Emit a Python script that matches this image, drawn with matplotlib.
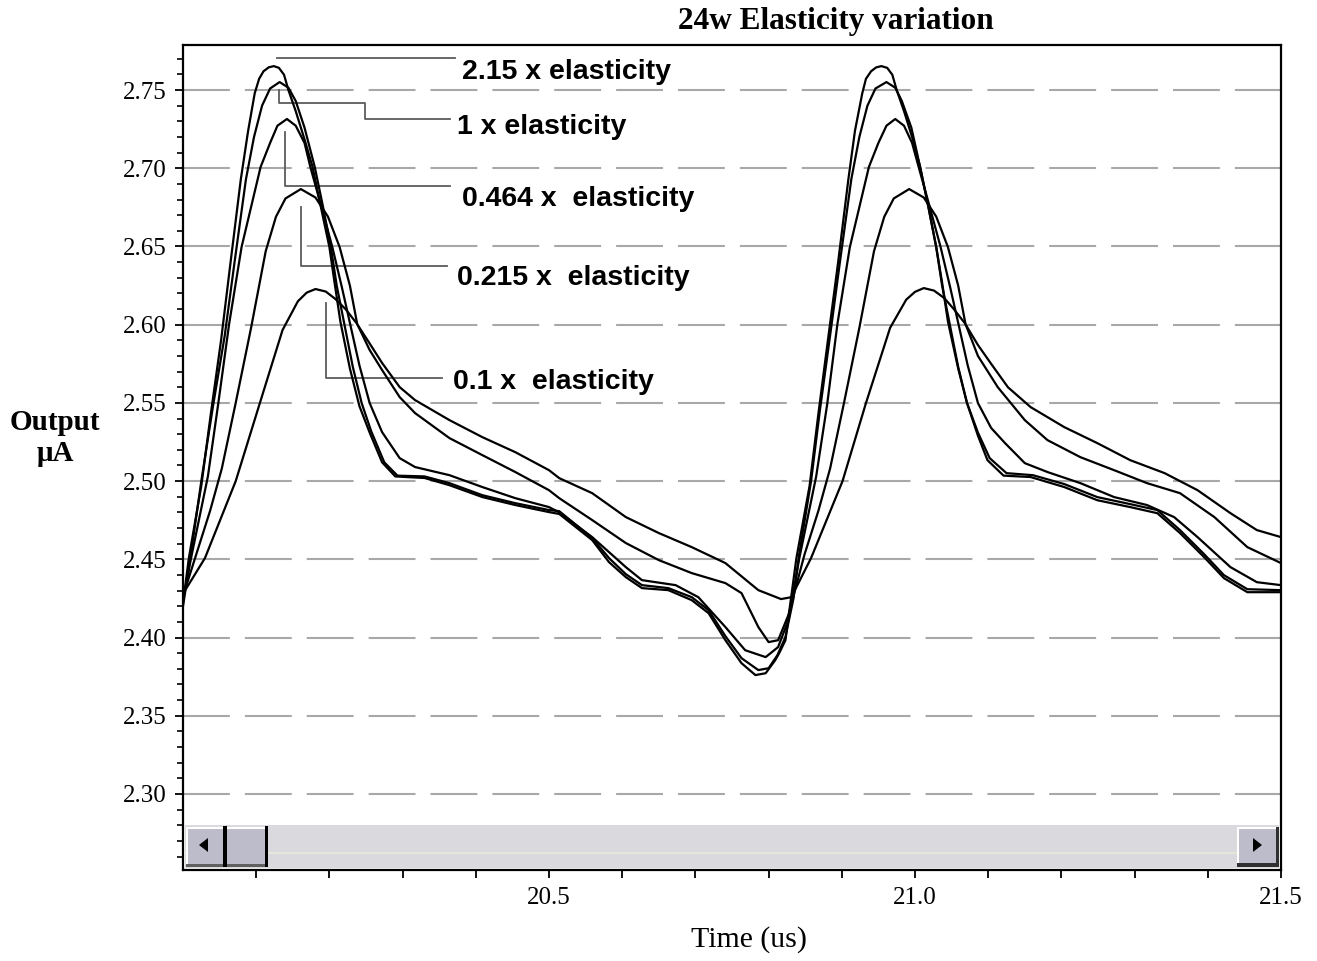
import matplotlib
matplotlib.use("Agg")
import matplotlib.pyplot as plt
from matplotlib.patches import Rectangle, Polygon
from matplotlib.ticker import FixedLocator, MultipleLocator

# ---------------- data ----------------
title = "24w Elasticity variation"
x_label = "Time (us)"
y_label = "Output\nμA"

series_labels = ["2.15 x elasticity", "1 x elasticity", "0.464 x  elasticity",
                 "0.215 x  elasticity", "0.1 x  elasticity"]

t_215 = [20.000, 20.008, 20.025, 20.038, 20.052, 20.065, 20.079, 20.089, 20.098, 20.104,
         20.110, 20.117, 20.124, 20.131, 20.138, 20.144, 20.154, 20.166, 20.177, 20.188,
         20.200, 20.207, 20.215, 20.228, 20.241, 20.255, 20.272, 20.290, 20.309, 20.330,
         20.364, 20.409, 20.454, 20.500, 20.514, 20.559, 20.582, 20.605, 20.627, 20.663,
         20.695, 20.718, 20.741, 20.763, 20.782, 20.796, 20.809, 20.815, 20.823, 20.830,
         20.838, 20.856, 20.868, 20.881, 20.895, 20.909, 20.918, 20.928, 20.933, 20.940,
         20.947, 20.954, 20.962, 20.969, 20.975, 20.985, 20.997, 21.007, 21.018, 21.029,
         21.037, 21.045, 21.059, 21.071, 21.086, 21.099, 21.121, 21.158, 21.204, 21.249,
         21.294, 21.331, 21.362, 21.395, 21.422, 21.454, 21.500]
v_215 = [2.4220, 2.4508, 2.4970, 2.5430, 2.5900, 2.6400, 2.6930, 2.7240, 2.7480, 2.7572,
         2.7620, 2.7645, 2.7653, 2.7642, 2.7598, 2.7500, 2.7365, 2.7185, 2.7008, 2.6760,
         2.6496, 2.6270, 2.6020, 2.5720, 2.5480, 2.5310, 2.5120, 2.5030, 2.5025, 2.5020,
         2.4974, 2.4898, 2.4847, 2.4802, 2.4790, 2.4623, 2.4482, 2.4386, 2.4316, 2.4303,
         2.4239, 2.4156, 2.3983, 2.3836, 2.3760, 2.3772, 2.3855, 2.3905, 2.3983, 2.4230,
         2.4508, 2.4970, 2.5430, 2.5900, 2.6400, 2.6930, 2.7240, 2.7480, 2.7572, 2.7620,
         2.7645, 2.7653, 2.7642, 2.7598, 2.7500, 2.7365, 2.7185, 2.7008, 2.6760, 2.6496,
         2.6270, 2.6020, 2.5720, 2.5500, 2.5290, 2.5134, 2.5035, 2.5026, 2.4962, 2.4878,
         2.4834, 2.4795, 2.4668, 2.4514, 2.4380, 2.4290, 2.4290]

t_1 = [20.000, 20.010, 20.025, 20.041, 20.057, 20.071, 20.086, 20.097, 20.108, 20.119,
       20.132, 20.144, 20.154, 20.166, 20.180, 20.191, 20.202, 20.210, 20.221, 20.232,
       20.244, 20.257, 20.275, 20.293, 20.330, 20.364, 20.409, 20.454, 20.500, 20.514,
       20.559, 20.582, 20.605, 20.627, 20.663, 20.695, 20.718, 20.741, 20.763, 20.786,
       20.800, 20.812, 20.823, 20.834, 20.841, 20.858, 20.870, 20.884, 20.898, 20.913,
       20.924, 20.935, 20.946, 20.961, 20.973, 20.982, 20.995, 21.007, 21.018, 21.029,
       21.037, 21.048, 21.059, 21.071, 21.086, 21.102, 21.125, 21.161, 21.204, 21.249,
       21.294, 21.331, 21.362, 21.395, 21.422, 21.454, 21.500]
v_1 = [2.4200, 2.4508, 2.5000, 2.5480, 2.5930, 2.6420, 2.6930, 2.7200, 2.7400, 2.7510,
       2.7551, 2.7515, 2.7430, 2.7260, 2.7008, 2.6760, 2.6496, 2.6250, 2.5990, 2.5730,
       2.5500, 2.5320, 2.5120, 2.5035, 2.5030, 2.4987, 2.4910, 2.4859, 2.4815, 2.4808,
       2.4636, 2.4508, 2.4405, 2.4335, 2.4316, 2.4258, 2.4175, 2.4009, 2.3868, 2.3792,
       2.3804, 2.3887, 2.4003, 2.4250, 2.4508, 2.5000, 2.5450, 2.5930, 2.6420, 2.6930,
       2.7200, 2.7400, 2.7510, 2.7551, 2.7515, 2.7430, 2.7260, 2.7008, 2.6760, 2.6496,
       2.6250, 2.5990, 2.5730, 2.5500, 2.5310, 2.5147, 2.5051, 2.5038, 2.4981, 2.4898,
       2.4853, 2.4815, 2.4687, 2.4533, 2.4399, 2.4309, 2.4303]

t_0464 = [20.000, 20.011, 20.034, 20.048, 20.063, 20.080, 20.106, 20.119, 20.129, 20.142,
          20.154, 20.166, 20.174, 20.189, 20.204, 20.217, 20.229, 20.241, 20.255, 20.272,
          20.296, 20.317, 20.364, 20.409, 20.454, 20.500, 20.514, 20.559, 20.605, 20.627,
          20.673, 20.704, 20.741, 20.768, 20.796, 20.813, 20.827, 20.842, 20.865, 20.880,
          20.894, 20.911, 20.937, 20.950, 20.961, 20.973, 20.985, 20.996, 21.005, 21.020,
          21.035, 21.048, 21.060, 21.072, 21.086, 21.104, 21.123, 21.150, 21.181, 21.226,
          21.272, 21.317, 21.354, 21.386, 21.431, 21.467, 21.500]
v_0464 = [2.4239, 2.4508, 2.5030, 2.5490, 2.6004, 2.6496, 2.7008, 2.7162, 2.7272, 2.7315,
          2.7272, 2.7162, 2.7008, 2.6755, 2.6496, 2.6240, 2.5991, 2.5740, 2.5499, 2.5313,
          2.5147, 2.5090, 2.5038, 2.4962, 2.4891, 2.4834, 2.4800, 2.4642, 2.4450, 2.4367,
          2.4335, 2.4258, 2.4067, 2.3919, 2.3875, 2.3939, 2.4111, 2.4508, 2.5030, 2.5490,
          2.6004, 2.6496, 2.7008, 2.7162, 2.7272, 2.7315, 2.7272, 2.7162, 2.7008, 2.6755,
          2.6496, 2.6240, 2.5991, 2.5740, 2.5499, 2.5340, 2.5243, 2.5115, 2.5058, 2.4987,
          2.4898, 2.4847, 2.4770, 2.4642, 2.4450, 2.4354, 2.4335]

t_0215 = [20.000, 20.018, 20.037, 20.053, 20.072, 20.093, 20.113, 20.127, 20.140, 20.161,
          20.181, 20.198, 20.214, 20.228, 20.238, 20.255, 20.272, 20.296, 20.317, 20.364,
          20.409, 20.454, 20.500, 20.514, 20.559, 20.605, 20.650, 20.695, 20.741, 20.763,
          20.786, 20.800, 20.813, 20.827, 20.849, 20.868, 20.884, 20.903, 20.924, 20.944,
          20.958, 20.971, 20.992, 21.012, 21.029, 21.045, 21.059, 21.069, 21.086, 21.113,
          21.150, 21.181, 21.226, 21.272, 21.317, 21.362, 21.409, 21.454, 21.500]
v_0215 = [2.4265, 2.4530, 2.4810, 2.5080, 2.5500, 2.5980, 2.6470, 2.6690, 2.6807, 2.6867,
          2.6813, 2.6691, 2.6496, 2.6250, 2.6004, 2.5838, 2.5710, 2.5537, 2.5435, 2.5275,
          2.5166, 2.5058, 2.4942, 2.4891, 2.4751, 2.4604, 2.4495, 2.4412, 2.4348, 2.4284,
          2.4067, 2.3971, 2.3983, 2.4143, 2.4530, 2.4810, 2.5080, 2.5500, 2.5980, 2.6470,
          2.6690, 2.6807, 2.6867, 2.6813, 2.6691, 2.6496, 2.6250, 2.6004, 2.5800, 2.5601,
          2.5390, 2.5262, 2.5153, 2.5070, 2.4987, 2.4923, 2.4770, 2.4578, 2.4476]

t_01 = [20.000, 20.030, 20.072, 20.105, 20.136, 20.157, 20.169, 20.181, 20.195, 20.208,
        20.222, 20.237, 20.255, 20.272, 20.296, 20.317, 20.364, 20.409, 20.454, 20.500,
        20.514, 20.559, 20.605, 20.650, 20.695, 20.741, 20.786, 20.817, 20.831, 20.858,
        20.901, 20.933, 20.966, 20.988, 21.000, 21.012, 21.026, 21.040, 21.053, 21.068,
        21.086, 21.104, 21.127, 21.158, 21.204, 21.249, 21.294, 21.341, 21.386, 21.431,
        21.467, 21.500]
v_01 = [2.4280, 2.4508, 2.5000, 2.5499, 2.5966, 2.6150, 2.6205, 2.6228, 2.6212, 2.6165,
        2.6100, 2.6010, 2.5880, 2.5755, 2.5601, 2.5518, 2.5390, 2.5281, 2.5185, 2.5070,
        2.5019, 2.4923, 2.4770, 2.4668, 2.4578, 2.4476, 2.4303, 2.4246, 2.4258, 2.4508,
        2.5000, 2.5499, 2.5980, 2.6160, 2.6210, 2.6234, 2.6218, 2.6170, 2.6100, 2.6010,
        2.5870, 2.5750, 2.5600, 2.5473, 2.5345, 2.5243, 2.5134, 2.5051, 2.4942, 2.4795,
        2.4687, 2.4642]

y_ticks = [2.30, 2.35, 2.40, 2.45, 2.50, 2.55, 2.60, 2.65, 2.70, 2.75]
x_ticks = [20.1, 20.2, 20.3, 20.4, 20.5, 20.6, 20.7, 20.8, 20.9, 21.0,
           21.1, 21.2, 21.3, 21.4, 21.5]
x_tick_labels = ["", "", "", "", "20.5", "", "", "", "", "21.0",
                 "", "", "", "", "21.5"]

# ---------------- figure ----------------
W, H = 1317, 961
fig = plt.figure(figsize=(W / 100, H / 100), dpi=100)
fig.patch.set_facecolor("white")


def fx(px):
    return px / W


def fy(py):
    return 1 - py / H


ax = fig.add_axes([fx(183), fy(870), fx(1281) - fx(183), fy(45) - fy(870)])
ax.set_xlim(20.0, 21.5)
ax.set_ylim(2.2514, 2.7788)

serif = ["Liberation Serif", "DejaVu Serif"]
sans = ["Liberation Sans", "DejaVu Sans"]

series = [(t_215, v_215), (t_1, v_1), (t_0464, v_0464), (t_0215, v_0215), (t_01, v_01)]
for tt, vv in series:
    ax.plot(tt, vv, color="black", lw=1.6, solid_joinstyle="round", zorder=3)

# grid
ax.yaxis.set_major_locator(FixedLocator(y_ticks))
ax.yaxis.set_minor_locator(MultipleLocator(0.01))
ax.set_yticklabels([f"{v:.2f}" for v in y_ticks])
ax.grid(axis="y", which="major", color="#a8a8a8", lw=1.5,
        linestyle=(0, (22.5, 7.2)), zorder=1)
ax.set_axisbelow(True)

ax.xaxis.set_major_locator(FixedLocator(x_ticks))
ax.set_xticklabels(x_tick_labels)

ax.tick_params(axis="both", which="major", direction="out", length=6, width=1.3,
               color="black", labelsize=18, pad=6)
ax.tick_params(axis="y", which="minor", direction="out", length=4, width=1.2)
for lbl in ax.get_xticklabels() + ax.get_yticklabels():
    lbl.set_fontfamily(serif)
for sp in ax.spines.values():
    sp.set_linewidth(1.6)
    sp.set_color("black")

# leader lines and labels (annotation geometry in data coordinates)
lead_col = "#5c5c5c"
leaders = [
    ([20.129, 20.371], [2.7708, 2.7708]),
    ([20.131, 20.131, 20.249, 20.249, 20.365], [2.7500, 2.7417, 2.7417, 2.7315, 2.7315]),
    ([20.140, 20.140, 20.365], [2.7231, 2.6886, 2.6886]),
    ([20.161, 20.161, 20.361], [2.6752, 2.6375, 2.6375]),
    ([20.195, 20.195, 20.354], [2.6138, 2.5659, 2.5659]),
]
text_pos = [(20.381, 2.7617), (20.374, 2.7263), (20.381, 2.6803), (20.374, 2.6298), (20.369, 2.5633)]
for (lx, ly), (tx, ty), lab in zip(leaders, text_pos, series_labels):
    ax.plot(lx, ly, color=lead_col, lw=1.3, zorder=2)
    ax.text(tx, ty, lab, fontsize=20.5, fontweight="bold", family=sans,
            ha="left", va="center", zorder=4)


# scrollbar (screenshot widget) drawn in figure pixels
def frect(x0, y0, x1, y1, **kw):
    fig.add_artist(Rectangle((fx(x0), fy(y1)), fx(x1) - fx(x0), fy(y0) - fy(y1),
                             transform=fig.transFigure, **kw))


frect(185, 825, 1279, 868, facecolor="#d9d9de", edgecolor="none", zorder=5)
frect(185, 852, 1279, 854, facecolor="#e6e6da", edgecolor="none", zorder=5)
# left button
frect(186, 827, 224, 866, facecolor="#bcbcca", edgecolor="none", zorder=6)
frect(186, 827, 224, 829, facecolor="white", edgecolor="none", zorder=6)
frect(186, 827, 188, 866, facecolor="white", edgecolor="none", zorder=6)
frect(186, 864, 224, 867, facecolor="#606060", edgecolor="none", zorder=6)
frect(223, 826, 227, 867, facecolor="black", edgecolor="none", zorder=6)
fig.add_artist(Polygon([(fx(199), fy(845)), (fx(208), fy(838)), (fx(208), fy(852))],
                       closed=True, transform=fig.transFigure, facecolor="black",
                       edgecolor="none", zorder=7))
# thumb
frect(227, 827, 266, 866, facecolor="#bcbcca", edgecolor="none", zorder=6)
frect(227, 827, 266, 829, facecolor="white", edgecolor="none", zorder=6)
frect(227, 864, 266, 867, facecolor="#606060", edgecolor="none", zorder=6)
frect(265, 826, 268, 867, facecolor="black", edgecolor="none", zorder=6)
# right button
frect(1237, 827, 1278, 866, facecolor="#bcbcca", edgecolor="none", zorder=6)
frect(1237, 827, 1278, 829, facecolor="white", edgecolor="none", zorder=6)
frect(1237, 827, 1239, 866, facecolor="white", edgecolor="none", zorder=6)
frect(1237, 863, 1279, 867, facecolor="#303030", edgecolor="none", zorder=6)
frect(1276, 827, 1279, 867, facecolor="#303030", edgecolor="none", zorder=6)
fig.add_artist(Polygon([(fx(1262), fy(845)), (fx(1253), fy(838)), (fx(1253), fy(852))],
                       closed=True, transform=fig.transFigure, facecolor="black",
                       edgecolor="none", zorder=7))

# titles / labels
fig.text(fx(836), fy(22), title, fontsize=22.5, fontweight="bold", family=serif,
         ha="center", va="center")
fig.text(fx(55), fy(438), y_label, fontsize=21, fontweight="bold", family=serif,
         ha="center", va="center", linespacing=1.2)
fig.text(fx(749), fy(940), x_label, fontsize=21.5, family=serif, ha="center", va="center")

fig.savefig("out.png", dpi=100, facecolor="white")
